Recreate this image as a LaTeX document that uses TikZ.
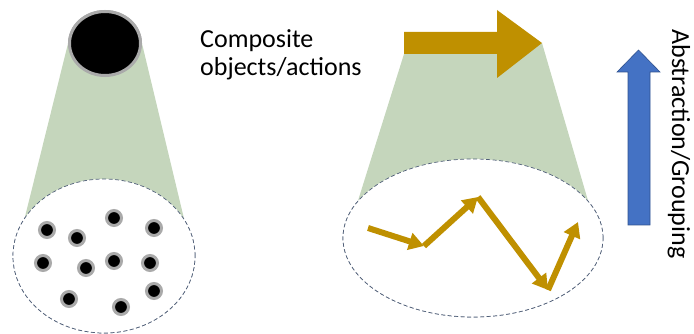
\documentclass[tikz,border=0pt]{standalone}
\usepackage{fontspec}
\setmainfont{Carlito}
\usetikzlibrary{shapes.geometric,arrows.meta}
\definecolor{grp}{RGB}{197,214,188}
\definecolor{gold}{RGB}{191,144,0}
\definecolor{blu}{RGB}{68,114,196}
\definecolor{bluedge}{RGB}{47,82,143}
\definecolor{ring}{RGB}{170,170,170}
\definecolor{dashc}{RGB}{80,95,120}
\tikzset{
  group/.style={ellipse, draw=dashc, line width=0.7pt, dash pattern=on 4pt off 2.5pt, fill=white, inner sep=0pt},
  cone/.style={fill=grp, draw=none},
  dot/.style={circle, fill=black, draw=ring, line width=3pt, minimum size=15pt, inner sep=0pt},
  act/.style={draw=gold, line width=6pt, -{Triangle[length=15pt,width=17pt]}},
  lbl/.style={font=\fontsize{26}{28}\selectfont, inner sep=0pt},
}
\begin{document}
\begin{tikzpicture}[x=1pt,y=-1pt]
\useasboundingbox (0,0) rectangle (694,334);
% ---- left: composite object
\node[group, minimum width=182pt, minimum height=154pt] (E1) at (104,256) {};
\node[ellipse, fill=black, draw=ring, line width=3pt, minimum width=71pt, minimum height=64pt, inner sep=0pt] (big) at (105,43.5) {};
\fill[cone] (big.west) -- (big.east) -- (E1.25.7) -- (E1.154.3) -- cycle;
\node[group, minimum width=182pt, minimum height=154pt] at (104,256) {};
\node[ellipse, fill=black, draw=ring, line width=3pt, minimum width=71pt, minimum height=64pt, inner sep=0pt] at (105,43.5) {};
\node[dot] (d1) at (47,230) {};
\node[dot] (d2) at (77,238) {};
\node[dot] (d3) at (114,218) {};
\node[dot] (d4) at (154,228) {};
\node[dot] (d5) at (43,263) {};
\node[dot] (d6) at (86,268) {};
\node[dot] (d7) at (114,261) {};
\node[dot] (d8) at (150,263) {};
\node[dot] (d9) at (154,291) {};
\node[dot] (d10) at (69,299) {};
\node[dot] (d11) at (121,307) {};
% ---- text
\node[lbl, anchor=north west, align=left] (txt) at (200,29) {Composite\\objects/actions};
% ---- right: composite action
\node[group, minimum width=260pt, minimum height=158pt] (E2) at (473,238) {};
\coordinate (tl) at (404,54);
\coordinate (tip) at (542,43);
\fill[cone] (tl) -- (tip) -- (E2.18.3) -- (E2.162.8) -- cycle;
\node[group, minimum width=260pt, minimum height=158pt] at (473,238) {};
\fill[gold] (404,32) -- (497,32) -- (497,10) -- (tip) -- (497,78) -- (497,54) -- (tl) -- cycle;
\coordinate (a) at (368,228);
\coordinate (b) at (424,246);
\coordinate (c) at (478,197);
\coordinate (d) at (548,290);
\coordinate (e) at (578,222);
\draw[act] (a) -- (b);
\draw[act] (b) -- (c);
\draw[act] (c) -- (d);
\draw[act] (d) -- (e);
% ---- abstraction arrow
\filldraw[fill=blu, draw=bluedge, line width=0.6pt] (628,225) -- (628,72) -- (617,72) -- (638.5,50) -- (660,72) -- (650,72) -- (650,225) -- cycle;
\node[lbl, rotate=-90] (abs) at (679,144) {Abstraction/Grouping};
\end{tikzpicture}
\end{document}
